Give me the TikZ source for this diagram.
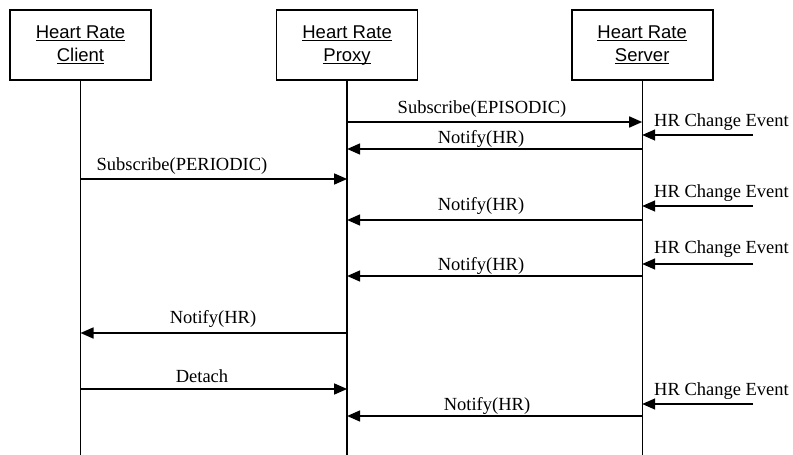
\documentclass[tikz,border=0pt]{standalone}
\usepackage{fontspec}
\setmainfont{Liberation Serif}
\setsansfont{Liberation Sans}
\usepackage{tikz}
\usetikzlibrary{calc, positioning, arrows.meta}

\begin{document}
\begin{tikzpicture}
              [x=1pt, y=-1pt,
               obj/.style={draw, line width=1.6, minimum width=141pt, minimum height=70pt,
                           align=center, font=\sffamily\fontsize{18.5}{23}\selectfont},
               life/.style={line width=1.3},
               msg/.style={-{Triangle[length=13pt, width=11pt]}, line width=1.6},
               lbl/.style={font=\fontsize{18.5}{22}\selectfont, inner sep=0, anchor=base},
               evt/.style={lbl, anchor=base west}]
              \useasboundingbox (0,0) rectangle (793,455);

              % nodes %
              \node[obj] (client) at (80.5,45) {\underline{Heart Rate}\\\underline{Client}};
              \node[obj, right=124pt of client] (proxy) {\underline{Heart Rate}\\\underline{\raisebox{0pt}[\height][0pt]{Proxy}}};
              \node[obj, right=152.5pt of proxy] (server) {\underline{Heart Rate}\\\underline{Server}};

              \coordinate (clientend) at (client |- 0,455);
              \coordinate (proxyend) at (proxy |- 0,455);
              \coordinate (serverend) at (server |- 0,455);

              \coordinate (ev1) at (753,135);
              \coordinate (ev2) at (753,206);
              \coordinate (ev3) at (753,264);
              \coordinate (ev4) at (753,404);

              % lifelines %
              \draw[life] (client) -- (clientend);
              \draw[life] (proxy) -- (proxyend);
              \draw[life] (server) -- (serverend);

              % messages %
              \draw[msg] (proxy |- 0,122) -- (server |- 0,122);
              \node[lbl] (subepi) at (482,113) {Subscribe(EPISODIC)};
              \draw[msg] (ev1) -- (server |- ev1);
              \node[evt] (hr1) at (654,126) {HR Change Event};
              \draw[msg] (server |- 0,149) -- (proxy |- 0,149);
              \node[lbl] (notify1) at (481,143) {Notify(HR)};

              \draw[msg] (client |- 0,179) -- (proxy |- 0,179);
              \node[lbl] (subper) at (182,170) {Subscribe(PERIODIC)};

              \draw[msg] (ev2) -- (server |- ev2);
              \node[evt] (hr2) at (654,197) {HR Change Event};
              \draw[msg] (server |- 0,220) -- (proxy |- 0,220);
              \node[lbl] (notify2) at (481,210) {Notify(HR)};

              \draw[msg] (ev3) -- (server |- ev3);
              \node[evt] (hr3) at (654,253) {HR Change Event};
              \draw[msg] (server |- 0,276) -- (proxy |- 0,276);
              \node[lbl] (notify3) at (481,270) {Notify(HR)};

              \draw[msg] (proxy |- 0,333) -- (client |- 0,333);
              \node[lbl] (notify4) at (213,323) {Notify(HR)};

              \draw[msg] (client |- 0,389) -- (proxy |- 0,389);
              \node[lbl] (detach) at (202,382) {Detach};

              \draw[msg] (ev4) -- (server |- ev4);
              \node[evt] (hr4) at (654,395) {HR Change Event};
              \draw[msg] (server |- 0,416) -- (proxy |- 0,416);
              \node[lbl] (notify5) at (487,410) {Notify(HR)};
            \end{tikzpicture}
\end{document}
